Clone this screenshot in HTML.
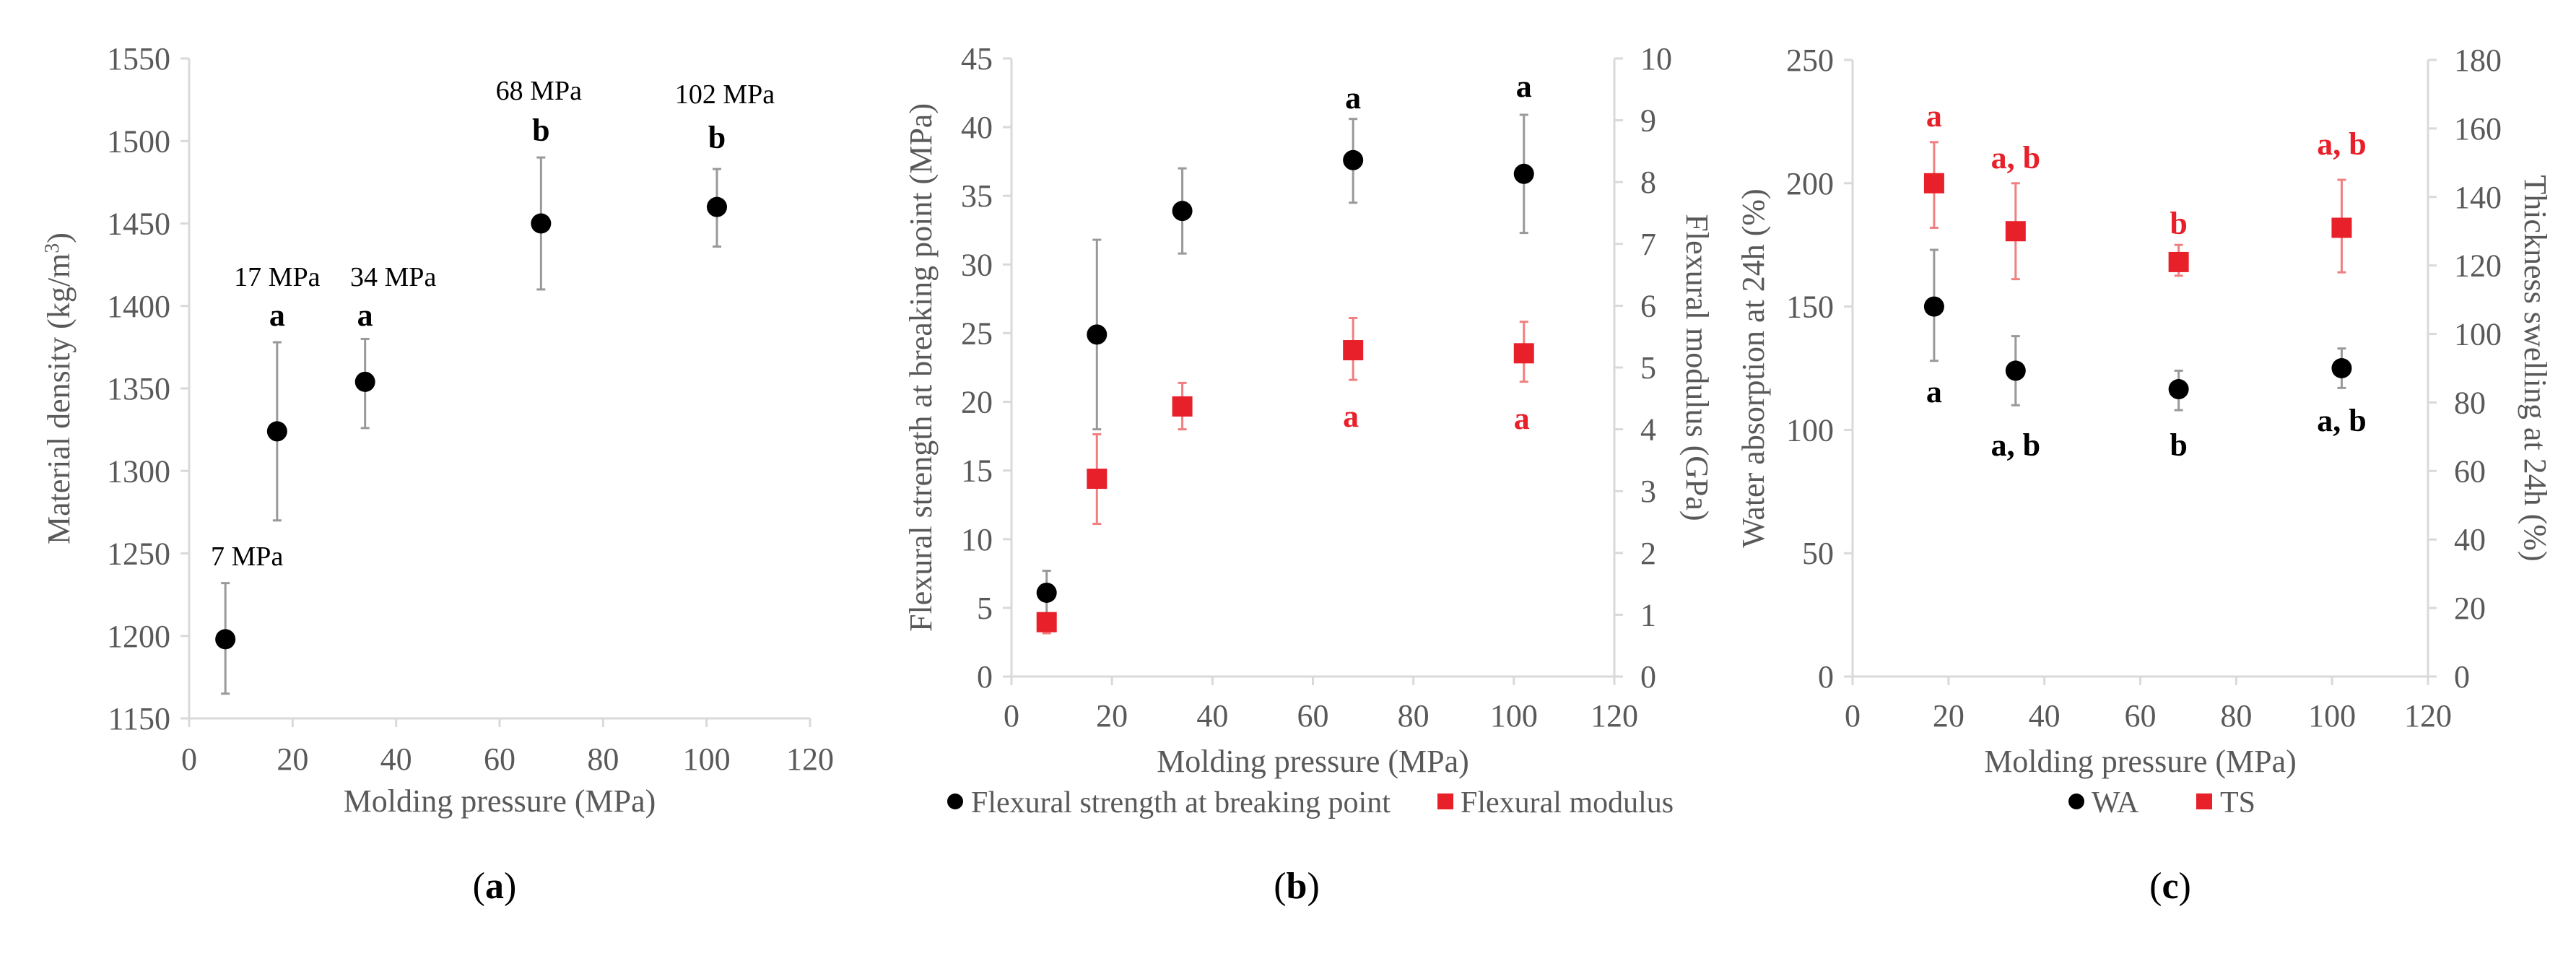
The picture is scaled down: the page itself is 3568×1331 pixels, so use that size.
<!DOCTYPE html>
<html><head><meta charset="utf-8"><style>
body{margin:0;background:#fff}
svg, svg text{font-family:"Liberation Serif","Times New Roman",serif}
</style></head><body>
<svg id="fig" width="3568" height="1326" viewBox="0 0 3568 1326" font-family="Liberation Serif, serif" xmlns="http://www.w3.org/2000/svg"></svg>
<script>
// Panel (a)
const aX = [7, 17, 34, 68, 102];
const aY = [1198, 1324, 1354, 1450, 1460];
const aLo = [1165, 1270, 1326, 1410, 1436];
const aHi = [1232, 1378, 1380, 1490, 1483];
const aTicksY = [1150, 1200, 1250, 1300, 1350, 1400, 1450, 1500, 1550];
const aLbl = ["7 MPa", "17 MPa", "34 MPa", "68 MPa", "102 MPa"];
const aLetter = ["", "a", "a", "b", "b"];
// Panel (b)
const bX = [7, 17, 34, 68, 102];
const bStr = [6.1, 24.9, 33.9, 37.6, 36.6];
const bStrLo = [4.6, 18.0, 30.8, 34.5, 32.3];
const bStrHi = [7.7, 31.8, 37.0, 40.6, 40.9];
const bMod = [0.88, 3.2, 4.37, 5.28, 5.23];
const bModLo = [0.7, 2.47, 4.0, 4.8, 4.77];
const bModHi = [1.0, 3.92, 4.75, 5.8, 5.74];
const bTicksL = [0, 5, 10, 15, 20, 25, 30, 35, 40, 45];
const bTicksR = [0, 1, 2, 3, 4, 5, 6, 7, 8, 9, 10];
// Panel (c)
const cX = [17, 34, 68, 102];
const cWA = [150, 124, 116.5, 125];
const cWALo = [128, 110, 108, 117];
const cWAHi = [173, 138, 124, 133];
const cTS = [144, 130, 121, 131];
const cTSLo = [131, 116, 117, 118];
const cTSHi = [156, 144, 126, 145];
const cTicksL = [0, 50, 100, 150, 200, 250];
const cTicksR = [0, 20, 40, 60, 80, 100, 120, 140, 160, 180];
const xTicks = [0, 20, 40, 60, 80, 100, 120];

const NS = "http://www.w3.org/2000/svg";
const svg = document.getElementById("fig");
const GRAY = "#595959", AX = "#d9d9d9", RED = "#e8202a";
const FS = 44;
const FF = "Liberation Serif, Times New Roman, serif";
function el(tag, attrs, parent, text){
  const e = document.createElementNS(NS, tag);
  if (tag === "text") e.setAttribute("font-family", FF);
  for (const k in attrs) e.setAttribute(k, attrs[k]);
  if (text !== undefined) e.textContent = text;
  (parent || svg).appendChild(e);
  return e;
}
function scale(d0, d1, r0, r1){ return v => r0 + (v - d0) * (r1 - r0) / (d1 - d0); }

function axes(g, sx, sy, x0, x1, y0, y1, yTicks, leftTitle, titleX, xTitleY, tickY){
  let e = el("line", {x1: x0, y1: y0, x2: x0, y2: y1, stroke: AX, "stroke-width": 3}, g);
  
  
  e = el("line", {x1: x0, y1: y0, x2: x1, y2: y0, stroke: AX, "stroke-width": 3}, g);
  
  
  yTicks.forEach(t => {
    const y = sy(t);
    el("line", {x1: x0 - 12, y1: y, x2: x0, y2: y, stroke: AX, "stroke-width": 3}, g);
    e = el("text", {x: x0 - 26, y: y + 15, "text-anchor": "end", "font-size": FS, fill: GRAY}, g, t);
    
    
  });
  xTicks.forEach(t => {
    const x = sx(t);
    el("line", {x1: x, y1: y0, x2: x, y2: y0 + 12, stroke: AX, "stroke-width": 3}, g);
    e = el("text", {x: x, y: tickY, "text-anchor": "middle", "font-size": FS, fill: GRAY}, g, t);
    
    
  });
  e = el("text", {x: (x0 + x1) / 2, y: xTitleY, "text-anchor": "middle", "font-size": FS, fill: GRAY}, g, "Molding pressure (MPa)");
  
  
  e = el("text", {x: 0, y: 0, "text-anchor": "middle", "font-size": FS, fill: GRAY,
    transform: `translate(${titleX},${(y0 + y1) / 2}) rotate(-90)`}, g);
  e.innerHTML = leftTitle;
  
  
}
function rightAxis(g, sy, x, ticks, title, titleX, y0, y1){
  let e = el("line", {x1: x, y1: y0, x2: x, y2: y1, stroke: AX, "stroke-width": 3}, g);
  
  
  ticks.forEach(t => {
    const y = sy(t);
    el("line", {x1: x, y1: y, x2: x + 12, y2: y, stroke: AX, "stroke-width": 3}, g);
    e = el("text", {x: x + 36, y: y + 15, "font-size": FS, fill: GRAY}, g, t);
    
    
  });
  e = el("text", {x: 0, y: 0, "text-anchor": "middle", "font-size": FS, fill: GRAY,
    transform: `translate(${titleX},${(y0 + y1) / 2}) rotate(90)`}, g, title);
  
  
}
function errBar(g, x, yl, yh, color){
  el("line", {x1: x, y1: yl, x2: x, y2: yh, stroke: color, "stroke-width": 3}, g);
  el("line", {x1: x - 6, y1: yl, x2: x + 6, y2: yl, stroke: color, "stroke-width": 3}, g);
  el("line", {x1: x - 6, y1: yh, x2: x + 6, y2: yh, stroke: color, "stroke-width": 3}, g);
}
function circle(g, x, y, name){
  const e = el("circle", {cx: x, cy: y, r: 14, fill: "#000"}, g);
  
  
}
function square(g, x, y, name){
  const e = el("rect", {x: x - 14, y: y - 14, width: 28, height: 28, fill: RED}, g);
  
  
}
function label(g, x, y, txt, color, bold, name){
  const e = el("text", {x: x, y: y + 14, "text-anchor": "middle", "font-size": bold ? 44 : 38,
    "font-weight": bold ? "bold" : "normal", fill: color}, g, txt);
  
  
}
function caption(x, y, letter, name){
  const e = el("text", {x: x, y: y + 17, "text-anchor": "middle", "font-size": 52, fill: "#000"});
  e.innerHTML = `(<tspan font-weight="bold">${letter}</tspan>)`;
  
  
}

// ---- Panel A
{
  const g = el("g", {});
  
  
  const sx = scale(0, 120, 262, 1122), sy = scale(1150, 1550, 995, 81);
  axes(g, sx, sy, 262, 1122, 995, 81, aTicksY,
    'Material density (kg/m<tspan baseline-shift="super" font-size="28">3</tspan>)', 96, 1124, 1066);
  aX.forEach((v, i) => {
    errBar(g, sx(v), sy(aLo[i]), sy(aHi[i]), "#999");
    circle(g, sx(v), sy(aY[i]), "density-point");
  });
  const lblY = [769, 382, 382, 124, 129];
  const lblDx = [30, 0, 39, -3, 11];
  const letY = [0, 437, 437, 181, 191];
  aX.forEach((v, i) => {
    label(g, sx(v) + lblDx[i], lblY[i], aLbl[i], "#000", false, "pressure-label");
    if (aLetter[i]) label(g, sx(v), letY[i], aLetter[i], "#000", true, "significance-letter");
  });
  caption(685, 1227, "a", "caption-a");
}
// ---- Panel B
{
  const g = el("g", {});
  
  
  const sx = scale(0, 120, 1401, 2236), sy = scale(0, 45, 937, 81), sr = scale(0, 10, 937, 81);
  axes(g, sx, sy, 1401, 2236, 937, 81, bTicksL,
    'Flexural strength at breaking point (MPa)', 1290, 1069, 1006);
  rightAxis(g, sr, 2236, bTicksR, "Flexural modulus (GPa)", 2336, 937, 81);
  bX.forEach((v, i) => {
    errBar(g, sx(v), sy(bStrLo[i]), sy(bStrHi[i]), "#999");
    circle(g, sx(v), sy(bStr[i]), "flexural-strength-point");
  });
  bX.forEach((v, i) => {
    errBar(g, sx(v), sr(bModLo[i]), sr(bModHi[i]), "#f08080");
    square(g, sx(v), sr(bMod[i]), "flexural-modulus-point");
  });
  label(g, sx(68), 136, "a", "#000", true, "strength-letter");
  label(g, sx(102), 120, "a", "#000", true, "strength-letter");
  label(g, sx(68) - 3, 577, "a", RED, true, "modulus-letter");
  label(g, sx(102) - 3, 580, "a", RED, true, "modulus-letter");
  const lg = el("g", {}, g);
  
  
  let e = el("circle", {cx: 1323, cy: 1110, r: 11, fill: "#000"}, lg);
  
  
  e = el("text", {x: 1345, y: 1125, "font-size": 42, fill: GRAY}, lg, "Flexural strength at breaking point");
  
  
  e = el("rect", {x: 1991, y: 1099, width: 22, height: 22, fill: RED}, lg);
  
  
  e = el("text", {x: 2023, y: 1125, "font-size": 42, fill: GRAY}, lg, "Flexural modulus");
  
  
  caption(1796, 1227, "b", "caption-b");
}
// ---- Panel C
{
  const g = el("g", {});
  
  
  const sx = scale(0, 120, 2566, 3363), sy = scale(0, 250, 937, 83), sr = scale(0, 180, 937, 83);
  axes(g, sx, sy, 2566, 3363, 937, 83, cTicksL,
    'Water absorption at 24h (%)', 2443, 1069, 1006);
  rightAxis(g, sr, 3363, cTicksR, "Thickness swelling at 24h (%)", 3497, 937, 83);
  cX.forEach((v, i) => {
    errBar(g, sx(v), sy(cWALo[i]), sy(cWAHi[i]), "#999");
    circle(g, sx(v), sy(cWA[i]), "water-absorption-point");
    errBar(g, sx(v), sr(cTSLo[i]), sr(cTSHi[i]), "#f08080");
    square(g, sx(v), sr(cTS[i]), "thickness-swelling-point");
  });
  const redL = ["a", "a, b", "b", "a, b"], redY = [161, 219, 310, 200];
  const blkL = ["a", "a, b", "b", "a, b"], blkY = [543, 617, 617, 583];
  cX.forEach((v, i) => {
    label(g, sx(v), redY[i], redL[i], RED, true, "ts-letter");
    label(g, sx(v), blkY[i], blkL[i], "#000", true, "wa-letter");
  });
  const lg = el("g", {}, g);
  
  
  let e = el("circle", {cx: 2876, cy: 1110, r: 11, fill: "#000"}, lg);
  
  
  e = el("text", {x: 2897, y: 1125, "font-size": 42, fill: GRAY}, lg, "WA");
  
  
  e = el("rect", {x: 3042, y: 1099, width: 22, height: 22, fill: RED}, lg);
  
  
  e = el("text", {x: 3075, y: 1125, "font-size": 42, fill: GRAY}, lg, "TS");
  
  
  caption(3006, 1227, "c", "caption-c");
}
</script>
</body></html>
